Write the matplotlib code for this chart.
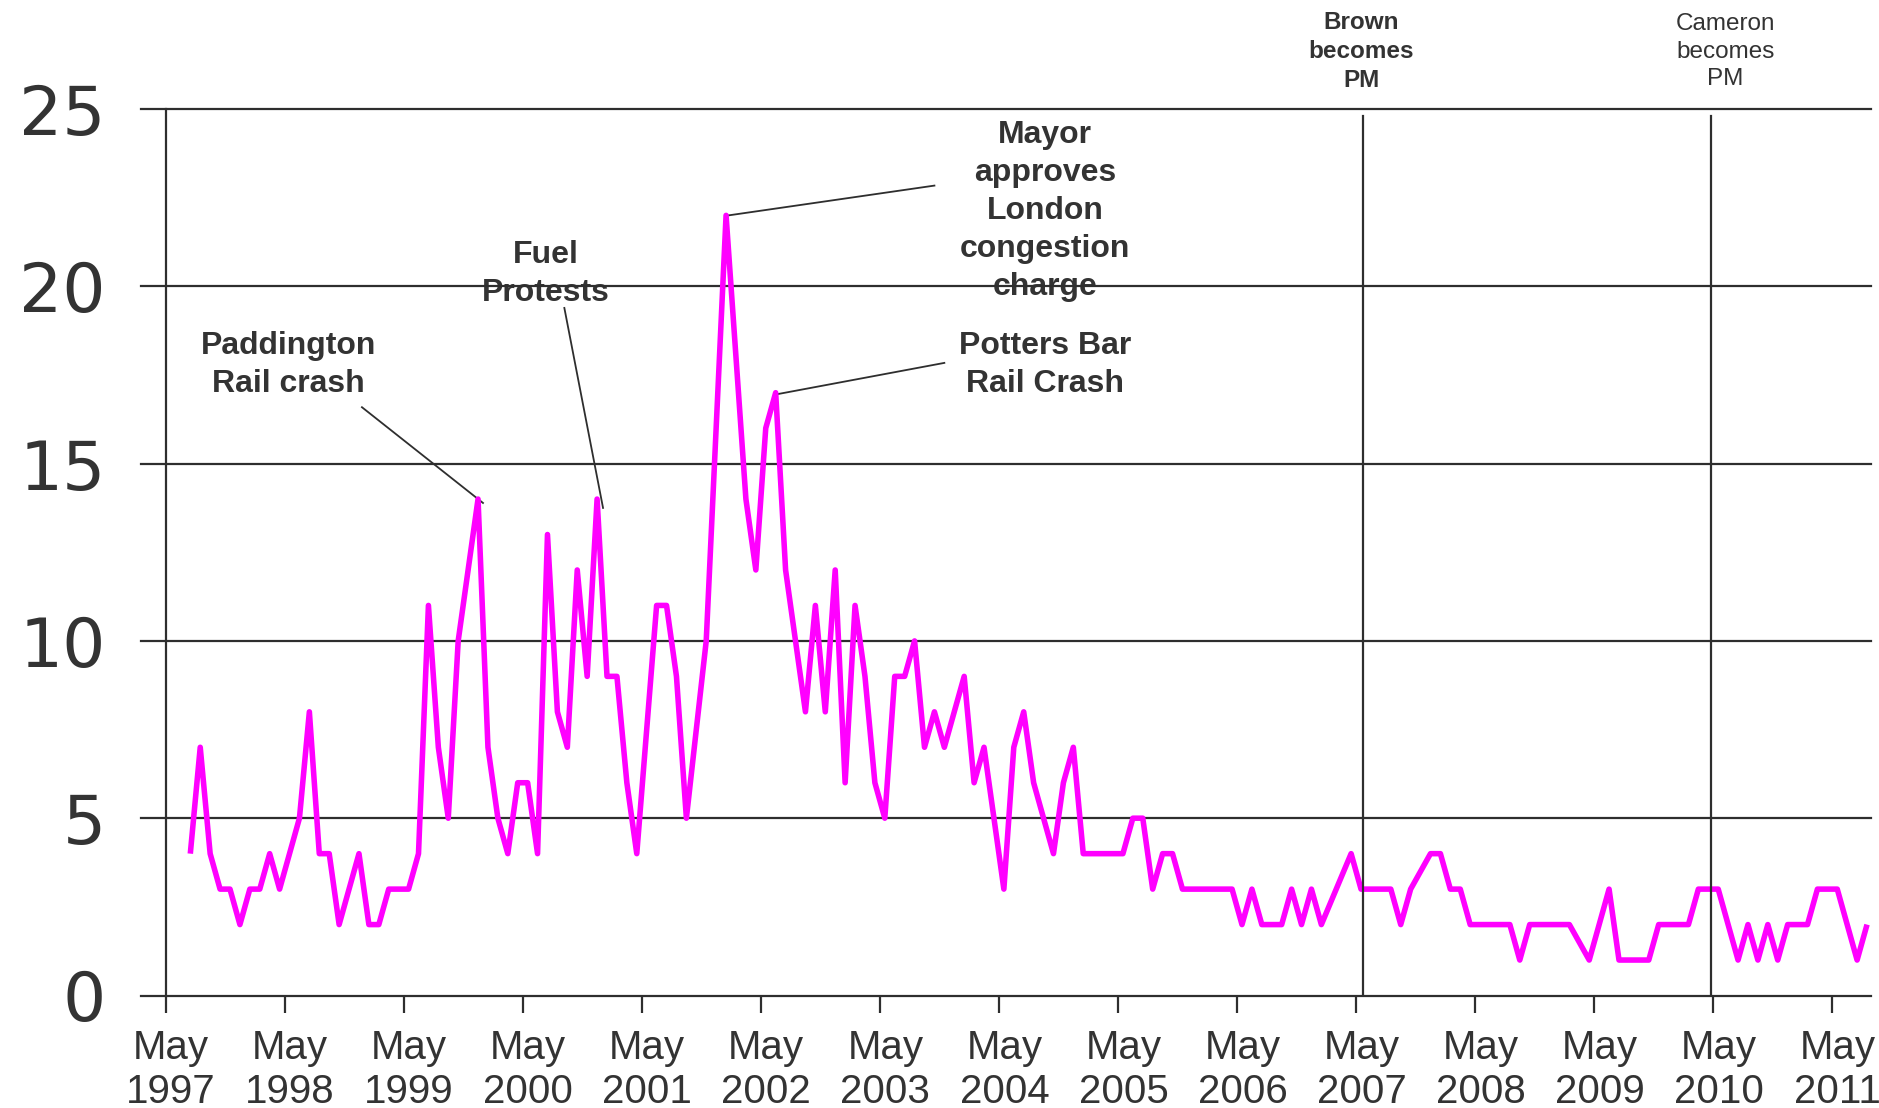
import matplotlib
matplotlib.use("Agg")
import matplotlib.pyplot as plt
import numpy as np

plt.rcParams['font.family'] = ['Liberation Sans', 'DejaVu Sans']

# Monthly values (None = no reading that month; the line joins across it)
values = [
    4, 7, 4, 3, 3, 2, 3, 3, 4, 3, 4, 5, 8, 4, 4, 2, 3, 4, 2, 2,
    3, 3, 3, 4, 11, 7, 5, 10, 12, 14, 7, 5, 4, 6, 6, 4, 13, 8, 7, 12,
    9, 14, 9, 9, 6, 4, None, 11, 11, 9, 5, None, 10, 16, 22, 18, 14, 12, 16, 17,
    12, 10, 8, 11, 8, 12, 6, 11, 9, 6, 5, 9, 9, 10, 7, 8, 7, 8, 9, 6,
    7, 5, 3, 7, 8, 6, 5, 4, 6, 7, 4, 4, 4, 4, 4, 5, 5, 3, 4, 4,
    3, 3, 3, 3, 3, 3, 2, 3, 2, 2, 2, 3, 2, 3, 2, None, None, 4, 3, 3,
    3, 3, 2, 3, None, 4, 4, 3, 3, 2, 2, 2, 2, 2, 1, 2, 2, 2, 2, 2,
    None, 1, 2, 3, 1, 1, 1, 1, 2, 2, 2, 2, 3, 3, 3, 2, 1, 2, 1, 2,
    1, 2, 2, 2, 3, 3, 3, 2, 1, 2,
]
years = [1997, 1998, 1999, 2000, 2001, 2002, 2003, 2004, 2005, 2006,
         2007, 2008, 2009, 2010, 2011]
tick_labels = ["May\n%d" % y for y in years]
y_ticks = [0, 5, 10, 15, 20, 25]

# event markers: (label, line position, label position, weight)
pm_events = [("Brown\nbecomes\nPM", 120.7, 120.5, "bold"),
             ("Cameron\nbecomes\nPM", 155.8, 157.2, "normal")]

# annotations: (text, text x, text y, line start, line end)
annotations = [
    ("Paddington\nRail crash", 12.4, 17.78, (19.8, 16.59), (32.0, 13.89)),
    ("Fuel\nProtests", 38.3, 20.35, (40.2, 19.39), (44.1, 13.75)),
    ("Mayor\napproves\nLondon\ncongestion\ncharge", 88.65, 22.13, (77.5, 22.84), (56.5, 21.99)),
    ("Potters Bar\nRail Crash", 88.65, 17.78, (78.5, 17.84), (61.7, 16.96)),
]

dark = "#2e2e2e"

fig = plt.figure(figsize=(18.79, 11.08), dpi=100)
ax = fig.add_axes([141 / 1879, 112.5 / 1108, 1730 / 1879, 886.5 / 1108])
ax.set_xlim(-2.47, 171.9)
ax.set_ylim(0, 25)
for s in ax.spines.values():
    s.set_visible(False)

for yv in y_ticks:
    ax.axhline(yv, color=dark, lw=1.6, zorder=2, clip_on=False)
ax.plot([0, 0], [0, 25], color=dark, lw=1.6, zorder=2, clip_on=False)

x = np.arange(len(values)) + 2.5
v = np.array([np.nan if a is None else a for a in values], dtype=float)
m = ~np.isnan(v)
ax.plot(x[m], v[m], color="#FF00FF", lw=4.0, zorder=3,
        solid_joinstyle="round", solid_capstyle="butt", clip_on=False)

major = np.arange(0, 12 * len(years), 12)
ax.set_xticks(major)
ax.set_xticklabels([""] * len(major))
ax.set_xticks(major + 0.55, minor=True)
ax.set_xticklabels(tick_labels, minor=True)
for lab in ax.get_xticklabels(minor=True):
    lab.set_linespacing(1.2)
ax.tick_params(axis="x", which="major", direction="out", length=12, width=1.6,
               color=dark)
ax.tick_params(axis="x", which="minor", length=0, pad=24, labelsize=29,
               labelcolor="#333333")
ax.set_yticks(y_ticks)
ax.set_yticklabels([str(t) for t in y_ticks], family=["DejaVu Sans"])
ax.tick_params(axis="y", length=0, pad=25.5, labelsize=49, labelcolor="#333333")

for label, mx, lx, weight in pm_events:
    ax.plot([mx, mx], [0.05, 24.8], color=dark, lw=1.6, zorder=4)
    ax.text(lx, 26.62, label, ha="center", va="center", fontsize=17.5,
            fontweight=weight, color="#333333", linespacing=1.33, clip_on=False)

for text, tx, ty, p0, p1 in annotations:
    ax.text(tx, ty, text, ha="center", va="center", fontsize=23,
            fontweight="bold", color="#333333", linespacing=1.35, zorder=1)
    ax.plot([p0[0], p1[0]], [p0[1], p1[1]], color=dark, lw=1.3, zorder=2)

fig.savefig("out.png", dpi=100)
